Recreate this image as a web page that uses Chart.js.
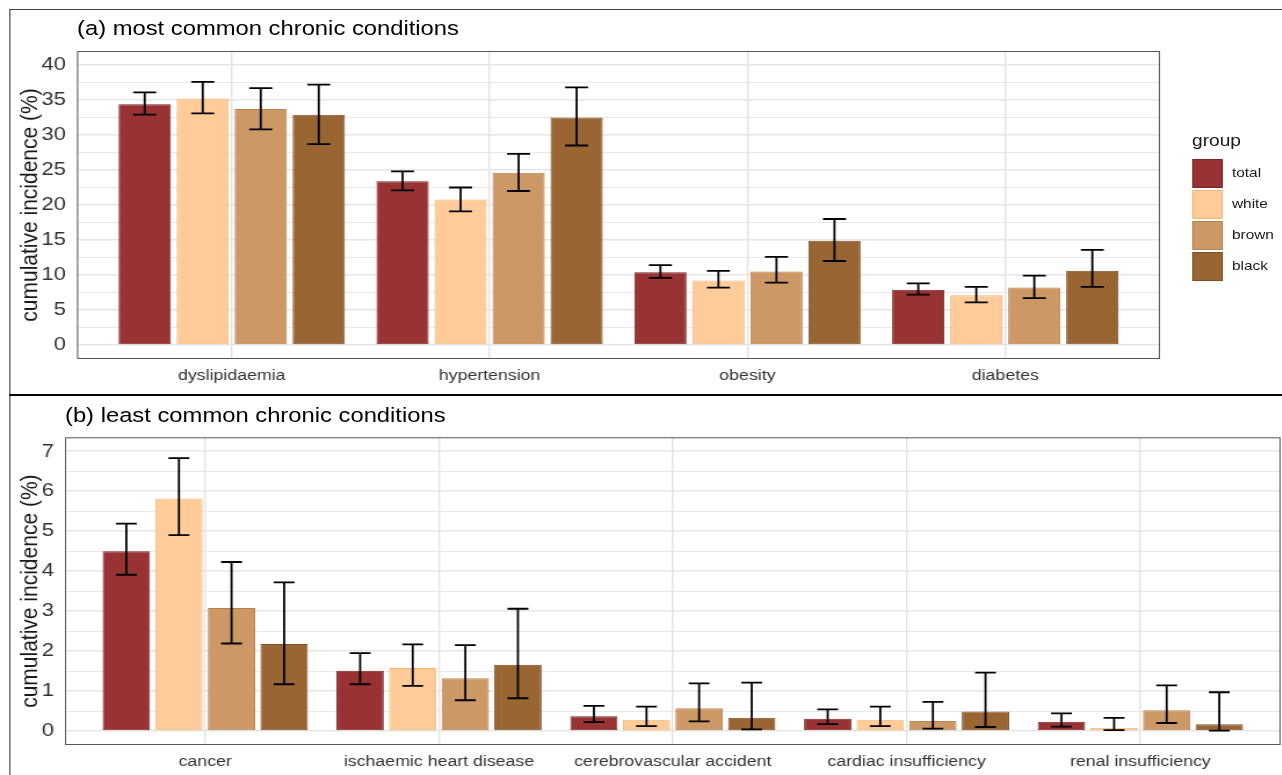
<!DOCTYPE html>
<html>
<head>
<meta charset="utf-8">
<title>cumulative incidence of chronic conditions</title>
<script src="https://cdn.jsdelivr.net/npm/chart.js@4.4.1/dist/chart.umd.min.js"></script>
<style>
  body { margin: 0; background: #fff; overflow: hidden; }
  /* the reference figure is stretched sideways, so the whole page is too */
  #wrap { position: relative; width: 1105px; height: 775px; transform: scaleX(1.16); transform-origin: 0 0;
          font-family: "Liberation Sans", Arial, sans-serif; }
  canvas { position: absolute; left: 0; }
  #cA { top: 0; }
  #cB { top: 396px; }
  .ttl { position: absolute; font-size: 20.5px; line-height: 24px; color: #000; white-space: nowrap; }
  .rule { position: absolute; }
  .key { position: absolute; left: 1027.6px; width: 24px; height: 27px; border: 1px solid; box-sizing: content-box; }
  .klab { position: absolute; left: 1062px; font-size: 13.3px; line-height: 28px; color: #1a1a1a; }
</style>
</head>
<body>
<div id="wrap">
  <div class="rule" style="left:7.8px;top:9px;width:1098px;height:1px;background:#444"></div>
  <div class="rule" style="left:7.8px;top:9px;width:1px;height:766px;background:#444"></div>
  <div class="rule" style="left:7.8px;top:394px;width:1098px;height:2px;background:#000"></div>

  <div class="ttl" style="left:66.4px;top:16px">(a) most common chronic conditions</div>
  <div class="ttl" style="left:56px;top:402.5px">(b) least common chronic conditions</div>

  <canvas id="cA" width="1105" height="394"></canvas>
  <canvas id="cB" width="1105" height="379"></canvas>

  <div id="legend"></div>
</div>

<script>
const family = '"Liberation Sans", Arial, sans-serif';

const groups = ['total', 'white', 'brown', 'black'];
const fills = ['#993333', '#FFCC99', '#CC9966', '#996633'];
const edges = ['#7c2729', '#f0b677', '#b9824b', '#7f5026'];

// (a) most common chronic conditions
const catsA = ['dyslipidaemia', 'hypertension', 'obesity', 'diabetes'];
const aTotal   = [34.4, 23.4, 10.4, 7.9];
const aTotalLo = [32.9, 22.1, 9.6, 7.2];
const aTotalHi = [36.1, 24.8, 11.4, 8.8];
const aWhite   = [35.2, 20.8, 9.2, 7.1];
const aWhiteLo = [33.1, 19.1, 8.2, 6.1];
const aWhiteHi = [37.6, 22.5, 10.6, 8.3];
const aBrown   = [33.7, 24.6, 10.5, 8.2];
const aBrownLo = [30.8, 22.0, 8.9, 6.7];
const aBrownHi = [36.7, 27.3, 12.6, 9.9];
const aBlack   = [32.9, 32.5, 14.9, 10.6];
const aBlackLo = [28.7, 28.5, 12.0, 8.3];
const aBlackHi = [37.2, 36.8, 18.0, 13.6];
const yTicksA = [0, 2.5, 5, 7.5, 10, 12.5, 15, 17.5, 20, 22.5, 25, 27.5, 30, 32.5, 35, 37.5, 40];

// (b) least common chronic conditions
const catsB = ['cancer', 'ischaemic heart disease', 'cerebrovascular accident', 'cardiac insufficiency', 'renal insufficiency'];
const bTotal   = [4.50, 1.51, 0.37, 0.31, 0.23];
const bTotalLo = [3.91, 1.17, 0.22, 0.17, 0.11];
const bTotalHi = [5.19, 1.95, 0.63, 0.54, 0.44];
const bWhite   = [5.82, 1.58, 0.28, 0.28, 0.08];
const bWhiteLo = [4.90, 1.13, 0.12, 0.12, 0.02];
const bWhiteHi = [6.83, 2.17, 0.61, 0.61, 0.33];
const bBrown   = [3.08, 1.32, 0.57, 0.25, 0.52];
const bBrownLo = [2.19, 0.77, 0.24, 0.06, 0.20];
const bBrownHi = [4.23, 2.15, 1.19, 0.73, 1.14];
const bBlack   = [2.18, 1.66, 0.33, 0.49, 0.17];
const bBlackLo = [1.17, 0.82, 0.04, 0.10, 0.01];
const bBlackHi = [3.72, 3.06, 1.21, 1.46, 0.97];
const yTicksB = [0, 0.5, 1, 1.5, 2, 2.5, 3, 3.5, 4, 4.5, 5, 5.5, 6, 6.5, 7];

// error bars + panel frame, drawn over the bars
const errorBars = {
  id: 'errorBars',
  afterDatasetsDraw(chart) {
    const ctx = chart.ctx, y = chart.scales.y;
    ctx.save();
    ctx.strokeStyle = '#000';
    ctx.lineWidth = 1.8;
    chart.data.datasets.forEach((ds, d) => {
      chart.getDatasetMeta(d).data.forEach((bar, i) => {
        const top = y.getPixelForValue(ds.hi[i]);
        const bot = y.getPixelForValue(ds.lo[i]);
        const half = bar.width * 0.22;
        ctx.beginPath();
        ctx.moveTo(bar.x, top); ctx.lineTo(bar.x, bot);
        ctx.moveTo(bar.x - half, top); ctx.lineTo(bar.x + half, top);
        ctx.moveTo(bar.x - half, bot); ctx.lineTo(bar.x + half, bot);
        ctx.stroke();
      });
    });
    const a = chart.chartArea;
    ctx.strokeStyle = '#555';
    ctx.lineWidth = 1;
    ctx.strokeRect(a.left + 0.5, a.top + 0.5, a.right - a.left - 1, a.bottom - a.top - 1);
    ctx.restore();
  }
};

function panel(id, cats, vals, lo, hi, yTicks, yMin, yMax, major, box) {
  return new Chart(document.getElementById(id), {
    type: 'bar',
    data: {
      datasets: groups.map((g, k) => ({
        label: g,
        data: vals[k].map((v, i) => ({ x: i, y: v })),
        lo: lo[k],
        hi: hi[k],
        backgroundColor: fills[k],
        borderColor: edges[k],
        borderWidth: 1,
        borderSkipped: false,
        categoryPercentage: 0.9,
        barPercentage: 0.9
      }))
    },
    options: {
      responsive: false,
      animation: false,
      layout: { padding: { top: box.top, right: box.right, bottom: 0, left: 0 } },
      plugins: { legend: { display: false }, tooltip: { enabled: false } },
      scales: {
        x: {
          type: 'linear',
          offset: false,
          min: -0.6,
          max: cats.length - 0.4,
          afterBuildTicks: s => { s.ticks = cats.map((c, i) => ({ value: i })); },
          afterFit: s => { s.height = box.xh; },
          ticks: { autoSkip: false, maxRotation: 0, padding: 8, color: '#333',
                   font: { size: 15.3, family }, callback: v => cats[v] },
          grid: { offset: false, color: '#e3e3e3', lineWidth: 1.4, drawTicks: false },
          border: { display: false }
        },
        y: {
          min: yMin,
          max: yMax,
          afterBuildTicks: s => { s.ticks = yTicks.map(v => ({ value: v })); },
          afterFit: s => { s.width = box.yw; },
          ticks: { autoSkip: false, padding: 9.5, color: '#333', font: { size: 19, family },
                   callback: v => (v % major === 0 ? v : '') },
          grid: { color: '#e6e6e6', drawTicks: false,
                  lineWidth: c => (c.tick && c.tick.value % major === 0 ? 1.6 : 0.9) },
          border: { display: false },
          title: { display: true, text: 'cumulative incidence (%)', color: '#1a1a1a',
                   font: { size: 21, family }, padding: { top: 13.3, bottom: 0 } }
        }
      }
    },
    plugins: [errorBars]
  });
}

panel('cA', catsA,
  [aTotal, aWhite, aBrown, aBlack],
  [aTotalLo, aWhiteLo, aBrownLo, aBlackLo],
  [aTotalHi, aWhiteHi, aBrownHi, aBlackHi],
  yTicksA, -2, 42, 5,
  { top: 51, right: 105, xh: 35, yw: 66.4 });

panel('cB', catsB,
  [bTotal, bWhite, bBrown, bBlack],
  [bTotalLo, bWhiteLo, bBrownLo, bBlackLo],
  [bTotalHi, bWhiteHi, bBrownHi, bBlackHi],
  yTicksB, -0.35, 7.35, 1,
  { top: 41.3, right: 1, xh: 30, yw: 56 });

// legend for panel (a)
const legend = document.getElementById('legend');
let html = '<div style="position:absolute;left:1027.6px;top:130.3px;font-size:16.5px;line-height:20px;color:#1a1a1a">group</div>';
groups.forEach((g, k) => {
  const top = 159 + k * 31;
  html += '<div class="key" style="top:' + top + 'px;background:' + fills[k] + ';border-color:' + edges[k] + '"></div>';
  html += '<div class="klab" style="top:' + top + 'px">' + g + '</div>';
});
legend.innerHTML = html;
</script>
</body>
</html>
